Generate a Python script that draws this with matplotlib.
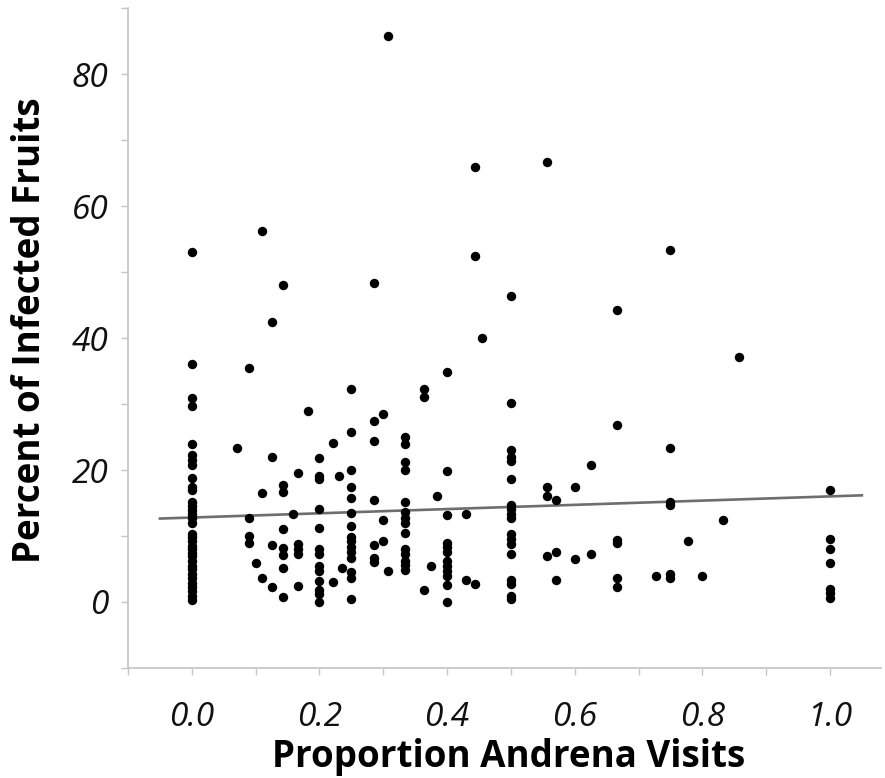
import matplotlib
matplotlib.use("Agg")
import matplotlib.pyplot as plt
from matplotlib.ticker import MultipleLocator
import numpy as np

# columns of points that share one x value
col_x = [0.0, 0.2, 0.25, 1/3, 0.4, 0.5, 1.0]
col_0 = [53.0, 36.0, 30.9, 29.7, 24.0, 22.3, 21.5, 20.8, 18.8, 17.5, 16.9, 15.2,
         14.6, 13.9, 13.3, 12.7, 11.9, 10.3, 9.8, 9.2, 8.5, 8.0, 7.5, 7.0, 6.2,
         5.5, 5.0, 4.3, 3.7, 2.9, 2.2, 1.6, 0.9, 0.25]
col_02 = [21.8, 19.1, 18.7, 14.1, 11.2, 8.0, 7.3, 5.5, 4.7, 3.2, 1.8, 1.2, 0.05]
col_025 = [32.3, 25.7, 20.0, 17.5, 15.8, 13.5, 11.5, 9.9, 9.2, 8.4, 7.6, 6.7,
           4.6, 3.7, 0.5]
col_033 = [25.0, 23.9, 21.2, 20.0, 15.1, 13.6, 12.8, 12.0, 10.5, 8.0, 7.2, 6.2,
           5.6, 4.9]
col_04 = [19.8, 13.2, 9.0, 8.3, 7.6, 6.2, 5.5, 4.7, 3.9, 2.6, 0.05]
col_05 = [46.3, 30.2, 23.0, 22.0, 21.4, 18.7, 14.7, 14.1, 13.3, 12.7, 10.3, 9.5,
          8.8, 7.2, 3.3, 2.8, 0.9, 0.5]
col_1 = [17.0, 9.5, 8.0, 5.9, 1.9, 1.3, 0.65]
col_y = [col_0, col_02, col_025, col_033, col_04, col_05, col_1]

# remaining scattered points
other_x = [0.071, 0.09, 0.09, 0.09, 0.09, 0.10, 0.11, 0.11, 0.11, 0.125, 0.125,
           0.125, 0.125, 0.143, 0.143, 0.143, 0.143, 0.143, 0.143, 0.143, 0.143,
           0.158, 0.167, 0.167, 0.167, 0.167, 0.167, 0.182, 0.222, 0.222, 0.231,
           0.235, 0.286, 0.286, 0.286, 0.286, 0.286, 0.286, 0.286, 0.30, 0.30,
           0.30, 0.308, 0.308, 0.364, 0.364, 0.364, 0.375, 0.385, 0.40, 0.429,
           0.429, 0.444, 0.444, 0.444, 0.455, 0.556, 0.556, 0.556, 0.556, 0.571,
           0.571, 0.571, 0.60, 0.60, 0.625, 0.625, 0.667, 0.667, 0.667, 0.667,
           0.667, 0.667, 0.727, 0.75, 0.75, 0.75, 0.75, 0.75, 0.75, 0.778, 0.80,
           0.833, 0.857]
other_y = [23.3, 35.5, 12.7, 10.0, 8.9, 5.9, 56.2, 16.5, 3.7, 42.4, 22.0,
           8.7, 2.2, 48.1, 17.7, 16.7, 11.0, 8.2, 7.1, 5.2, 0.8,
           13.3, 19.6, 8.8, 8.0, 7.2, 2.4, 28.9, 24.1, 3.0, 19.1,
           5.1, 48.4, 27.4, 24.4, 15.4, 8.6, 6.7, 6.1, 28.5, 12.5,
           9.2, 85.7, 4.7, 32.3, 31.1, 1.8, 5.5, 16.0, 34.8, 13.3,
           3.3, 65.9, 52.4, 2.7, 40.0, 66.7, 17.5, 16.1, 7.0, 15.4,
           7.6, 3.4, 17.5, 6.5, 20.8, 7.3, 44.3, 26.8, 9.4, 9.0,
           3.7, 2.3, 4.0, 53.4, 23.4, 15.2, 14.7, 4.2, 3.7, 9.3, 3.9,
           12.4, 37.1]

# fitted line (many points overlap, so refitting drifts)
fit_intercept = 12.8
fit_slope = 3.2
fit_range = [-0.05, 1.05]

prop_visits = list(other_x)
pct_infected = list(other_y)
for cx, ys in zip(col_x, col_y):
    prop_visits += [cx] * len(ys)
    pct_infected += ys

fig = plt.figure(figsize=(8.85, 7.78), dpi=100)
ax = fig.add_axes([128/885, 1 - 668/778, (881 - 128)/885, (668 - 8)/778])

ax.scatter(prop_visits, pct_infected, s=46, color="black", linewidths=0, zorder=3)

fit_x = np.array(fit_range)
ax.plot(fit_x, fit_intercept + fit_slope * fit_x, color="#6e6e6e", lw=1.9, zorder=2)

ax.set_xlim(-0.1, 1.08)
ax.set_ylim(-10, 90)
ax.xaxis.set_minor_locator(MultipleLocator(0.1))
ax.yaxis.set_minor_locator(MultipleLocator(10))
ax.set_xticks([0.0, 0.2, 0.4, 0.6, 0.8, 1.0])
ax.set_yticks([0, 20, 40, 60, 80])

for side in ["top", "right"]:
    ax.spines[side].set_visible(False)
for side in ["left", "bottom"]:
    ax.spines[side].set_color("#c4c4c4")
    ax.spines[side].set_linewidth(1.2)

ax.tick_params(which="both", direction="out", length=5, width=1.0, color="#c4c4c4")
ax.tick_params(axis="x", which="major", pad=19)
ax.tick_params(axis="y", which="major", pad=9)

for lab in ax.get_xticklabels() + ax.get_yticklabels():
    lab.set_family("Open Sans")
    lab.set_style("italic")
    lab.set_fontsize(24)
    lab.set_color("#111111")

fig.text(509/885, 1 - 757/778, "Proportion Andrena Visits", ha="center", va="center",
         family="Open Sans", weight="bold", fontsize=26.5)
fig.text(30/885, 1 - 330/778, "Percent of Infected Fruits", ha="center", va="center",
         rotation=90, family="Open Sans", weight="bold", fontsize=26.5)

fig.savefig("out.png", dpi=100)
